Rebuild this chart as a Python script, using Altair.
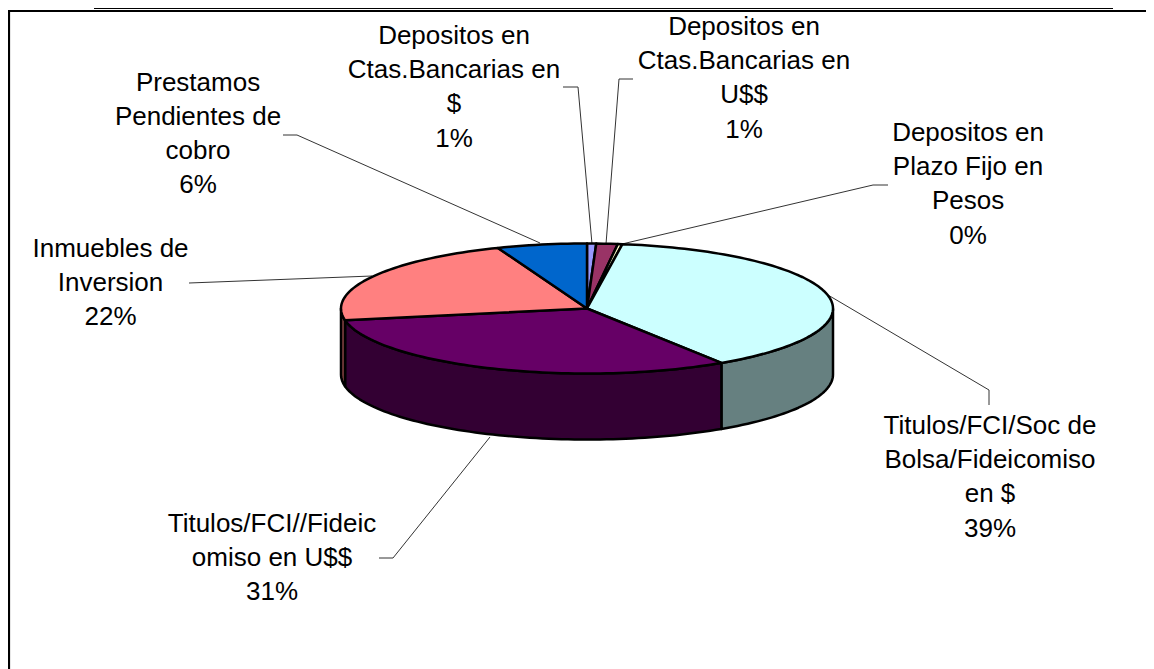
import math
import altair as alt
import pandas as pd

# --- chart values ---
categories = ["Depositos en Ctas.Bancarias en $", "Depositos en Ctas.Bancarias en U$$",
              "Depositos en Plazo Fijo en Pesos", "Titulos/FCI/Soc de Bolsa/Fideicomiso en $",
              "Titulos/FCI//Fideic omiso en U$$", "Inmuebles de Inversion",
              "Prestamos Pendientes de cobro"]
shares = [0.6, 1.4, 0.3, 38.5, 31.3, 22.0, 5.9]
percent_labels = ["1%", "1%", "0%", "39%", "31%", "22%", "6%"]
top_colors = ["#9999FF", "#993366", "#FFFFCC", "#CCFFFF", "#660066", "#FF8080", "#0066CC"]
side_colors = ["#4D4D80", "#4D1A33", "#808066", "#668080", "#330033", "#804040", "#003366"]
label_lines = [
    ["Depositos en", "Ctas.Bancarias en", "$", "1%"],
    ["Depositos en", "Ctas.Bancarias en", "U$$", "1%"],
    ["Depositos en", "Plazo Fijo en", "Pesos", "0%"],
    ["Titulos/FCI/Soc de", "Bolsa/Fideicomiso", "en $", "39%"],
    ["Titulos/FCI//Fideic", "omiso en U$$", "31%"],
    ["Inmuebles de", "Inversion", "22%"],
    ["Prestamos", "Pendientes de", "cobro", "6%"],
]

# --- layout ---
W, H = 1138, 661
CX, CY, RX, RY, DEPTH = 587.0, 308.5, 246.0, 65.0, 66.0
label_pos = [(454, 36), (744, 27), (968, 133), (990, 426), (272, 524), (110.5, 249), (198, 82.5)]
line_gap = 34.2
leaders = [
    [(563, 87), (578, 87), (592, 244)],
    [(633, 79), (619, 79), (606, 244)],
    [(888, 185), (873, 185), (622, 244)],
    [(828, 295), (989, 390), (989, 405)],
    [(379, 558), (393, 558), (490, 437)],
    [(189, 283), (372, 276)],
    [(283, 135), (297, 135), (540, 243)],
]

xs = alt.Scale(domain=[8, 8 + W], range=[0, W])
ys = alt.Scale(domain=[8, 8 + H], range=[0, H])
X = alt.X("x:Q", scale=xs, axis=None)
Y = alt.Y("y:Q", scale=ys, axis=None)


def pt(t, dz=0.0):
    r = math.radians(t)
    return (CX + RX * math.sin(r), CY - RY * math.cos(r) + dz)


def arc(a, b):
    n = max(2, int(abs(b - a) / 1.5) + 1)
    return [a + (b - a) * k / (n - 1) for k in range(n)]


def poly(points, fill, width=2.5):
    df = pd.DataFrame([{"x": x, "y": y, "i": i} for i, (x, y) in enumerate(points)])
    return alt.Chart(df).mark_line(
        fill=fill, stroke="#000000", strokeWidth=width, strokeJoin="round", clip=False
    ).encode(x=X, y=Y, order=alt.Order("i:Q"))


layers = []

# frame
frame = pd.DataFrame([{"x": 9, "y": 669, "i": 0}, {"x": 9, "y": 11, "i": 1}, {"x": 1146, "y": 11, "i": 2}])
layers.append(alt.Chart(frame).mark_line(color="#000000", strokeWidth=2.2).encode(x=X, y=Y, order=alt.Order("i:Q")))
rule = pd.DataFrame([{"x": 94, "y": 8.5, "i": 0}, {"x": 1113, "y": 8.5, "i": 1}])
layers.append(alt.Chart(rule).mark_line(color="#000000", strokeWidth=1).encode(x=X, y=Y, order=alt.Order("i:Q")))

# slice angles
bounds = [0.0]
for s in shares:
    bounds.append(bounds[-1] + s * 3.6)

# leader lines
for k, seg in enumerate(leaders):
    df = pd.DataFrame([{"x": x, "y": y, "i": i} for i, (x, y) in enumerate(seg)])
    layers.append(alt.Chart(df).mark_line(color="#333333", strokeWidth=1).encode(x=X, y=Y, order=alt.Order("i:Q")))

# side walls (only the front half is visible)
for i, col in enumerate(side_colors):
    a, b = max(bounds[i], 90), min(bounds[i + 1], 270)
    if b <= a:
        continue
    ts = arc(a, b)
    pts = [pt(t) for t in ts] + [pt(t, DEPTH) for t in reversed(ts)]
    pts.append(pts[0])
    layers.append(poly(pts, col))

# top faces
for i, col in enumerate(top_colors):
    ts = arc(bounds[i], bounds[i + 1])
    pts = [(CX, CY)] + [pt(t) for t in ts] + [(CX, CY)]
    layers.append(poly(pts, col))

# labels
rows = []
for (x0, y0), lines in zip(label_pos, label_lines):
    for j, t in enumerate(lines):
        rows.append({"x": x0, "y": y0 + j * line_gap, "t": t})
layers.append(alt.Chart(pd.DataFrame(rows)).mark_text(
    font="Liberation Sans", fontSize=26, color="#000000", align="center", baseline="middle"
).encode(x=X, y=Y, text="t:N"))

chart = alt.layer(*layers).properties(
    width=W, height=H, padding=0, autosize=alt.AutoSizeParams(type="none"),
    background="#FFFFFF",
).configure_view(stroke=None)

chart.save("out.html", embed_options={"renderer": "svg", "actions": False})
